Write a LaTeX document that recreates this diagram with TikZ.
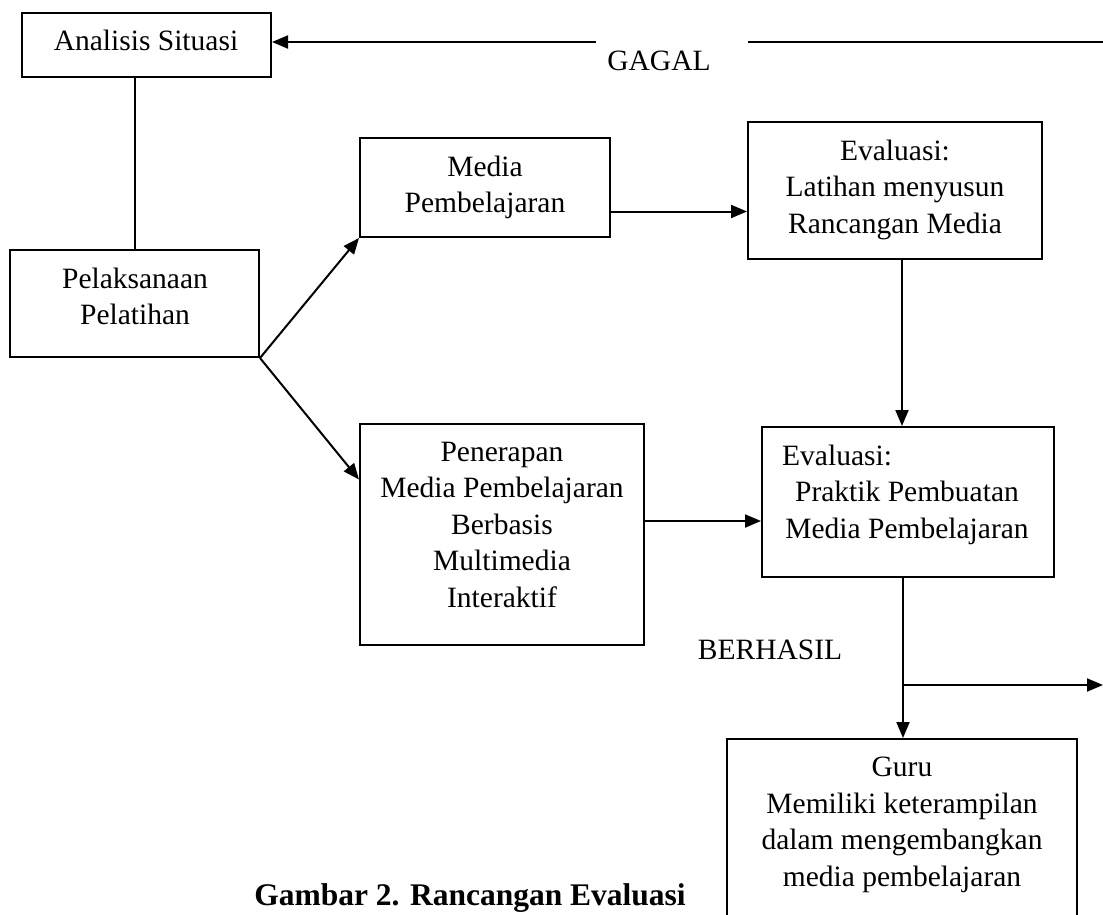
\documentclass[tikz,border=0pt]{standalone}
\usepackage{fontspec}
\setmainfont{Liberation Serif}
\usetikzlibrary{arrows.meta}
\begin{document}
\begin{tikzpicture}[x=1pt,y=-1pt,
  box/.style={draw, line width=2pt, inner sep=0pt},
  txt/.style={inner sep=0pt, align=center, font=\fontsize{29.5}{36.5}\selectfont},
  conn/.style={line width=2pt},
  arr/.style={line width=2pt, -{Triangle[length=16pt,width=13pt]}}]
\useasboundingbox (0,0) rectangle (1103,914);
% boxes
\node[box, minimum width=249pt, minimum height=64pt] (ana) at (146.5,45) {};
\node[box, minimum width=249pt, minimum height=107pt] (pel) at (134.5,303.5) {};
\node[box, minimum width=250pt, minimum height=99pt] (med) at (485,187.5) {};
\node[box, minimum width=294pt, minimum height=137pt] (ev1) at (895,190.5) {};
\node[box, minimum width=284pt, minimum height=221pt] (pen) at (502,534.5) {};
\node[box, minimum width=292pt, minimum height=150pt] (ev2) at (908,502) {};
\node[box, minimum width=350pt, minimum height=191pt] (guru) at (902,834.5) {};
% texts
\node[txt, anchor=base] (anat) at (146,50) {Analisis Situasi};
\node[txt] (pelt) at (135,296.5) {Pelaksanaan\\Pelatihan};
\node[txt] (medt) at (485,187.5) {Media\\Pembelajaran};
\node[txt] (ev1t) at (895,189.5) {Evaluasi:\\Latihan menyusun\\Rancangan Media};
\node[txt] (pent) at (502,524.5) {Penerapan\\Media Pembelajaran\\Berbasis\\Multimedia\\Interaktif};
\node[txt, anchor=base west] (ev2a) at (782,465) {Evaluasi:};
\node[txt] (ev2t) at (907,513) {Praktik Pembuatan\\Media Pembelajaran};
\node[txt] (gurut) at (902,825) {Guru\\Memiliki keterampilan\\dalam mengembangkan\\media pembelajaran};
\node[txt, anchor=base] (gagal) at (659,70) {GAGAL};
\node[txt, anchor=base] (berhasil) at (770,659) {BERHASIL};
\node[txt, anchor=base, font=\fontsize{31.5}{36}\selectfont\bfseries] (cap) at (470,905) {Gambar 2. Rancangan Evaluasi};
% connectors
\coordinate (gR) at (1103,42);
\coordinate (g1) at (748,42);
\coordinate (g2) at (596,42);
\draw[conn] (gR) -- (g1);
\draw[arr] (g2) -- (g2 -| ana.east);
\draw[conn] (pel.north) -- (pel.north |- ana.south);
\draw[arr] (pel.south east) -- (med.south west);
\draw[arr] (pel.south east) -- ([yshift=55pt]pen.west);
\draw[arr] ([yshift=-24pt]med.east) -- ([yshift=-24pt]med.east -| ev1.west);
\draw[arr] ([xshift=7pt]ev1.south) -- ([xshift=7pt]ev1.south |- ev2.north);
\draw[arr] ([yshift=13.5pt]pen.east) -- ([yshift=13.5pt]pen.east -| ev2.west);
\draw[arr] ([xshift=-5pt]ev2.south) -- ([xshift=-5pt]ev2.south |- guru.north);
\coordinate (br) at (903,685);
\coordinate (rt) at (1103,685);
\draw[arr] (br) -- (rt);
\end{tikzpicture}
\end{document}
